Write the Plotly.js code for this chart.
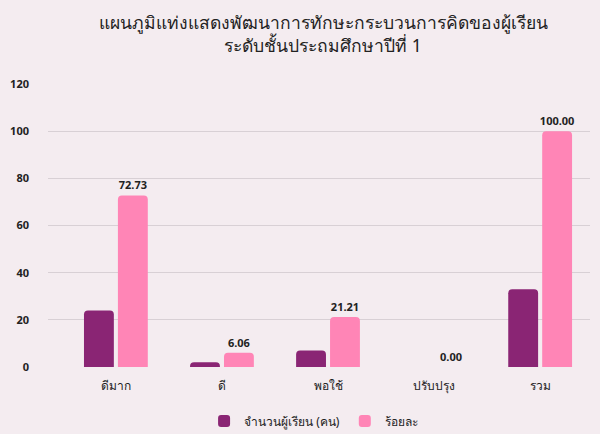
<!DOCTYPE html>
<html>
<head>
<meta charset="utf-8">
<script src="https://cdn.plot.ly/plotly-3.0.1.min.js"></script>
<style>
html,body{margin:0;padding:0;background:#f4ecf0;}
#chart{width:600px;height:434px;}
</style>
</head>
<body>
<div id="chart"></div>
<script>
const categories = ["ดีมาก", "ดี", "พอใช้", "ปรับปรุง", "รวม"];
const studentCounts = [24, 2, 7, 0, 33];
const percentages = [72.73, 6.06, 21.21, 0.00, 100.00];
const percentLabels = ["72.73", "6.06", "21.21", "0.00", "100.00"];
const yTicks = [0, 20, 40, 60, 80, 100, 120];
const seriesNames = ["จำนวนผู้เรียน (คน)", "ร้อยละ"];

const FONT = "Noto Sans, DejaVu Sans, sans-serif";

const traces = [
  {
    type: "bar",
    name: seriesNames[0],
    x: categories,
    y: studentCounts,
    marker: {color: "#8a2574"},
    hoverinfo: "x+y"
  },
  {
    type: "bar",
    name: seriesNames[1],
    x: categories,
    y: percentages,
    text: percentLabels,
    textposition: "outside",
    constraintext: "none",
    cliponaxis: false,
    textfont: {family: FONT, size: 11, color: "#222222", weight: "bold"},
    marker: {color: "#ff85b6"},
    hoverinfo: "x+y"
  }
];

const layout = {
  width: 600,
  height: 434,
  paper_bgcolor: "#f4ecf0",
  plot_bgcolor: "#f4ecf0",
  margin: {l: 48, r: 10, t: 84, b: 67, autoexpand: false},
  barmode: "group",
  bargap: 0.36,
  bargroupgap: 0.12,
  barcornerradius: 4,
  title: {
    text: "แผนภูมิแท่งแสดงพัฒนาการทักษะกระบวนการคิดของผู้เรียน<br>ระดับชั้นประถมศึกษาปีที่ 1",
    font: {family: FONT, size: 17.5, color: "#222222"},
    xref: "paper",
    xanchor: "center",
    yref: "container",
    y: (434 - 29) / 434,
    yanchor: "middle"
  },
  xaxis: {
    type: "category",
    range: [-0.64, 4.47],
    showgrid: false,
    zeroline: false,
    showline: false,
    ticks: "",
    automargin: false,
    ticklabelstandoff: 10,
    tickfont: {family: FONT, size: 12, color: "#222222"}
  },
  yaxis: {
    range: [0, 120],
    tickvals: yTicks,
    ticktext: yTicks.map(String),
    showgrid: true,
    gridcolor: "#d8d0d5",
    gridwidth: 1,
    zeroline: false,
    showline: false,
    ticks: "",
    automargin: false,
    ticklabelstandoff: 18,
    tickfont: {family: FONT, size: 11, color: "#222222", weight: "bold"}
  },
  showlegend: true,
  legend: {
    orientation: "h",
    x: 0.49,
    xanchor: "center",
    yref: "container",
    y: 0.03,
    yanchor: "middle",
    bgcolor: "rgba(0,0,0,0)",
    font: {family: FONT, size: 12, color: "#222222"},
    traceorder: "normal"
  }
};
layout.title.x = (323 - 48) / 542;

Plotly.newPlot("chart", traces, layout, {displayModeBar: false, staticPlot: true});
</script>
</body>
</html>
